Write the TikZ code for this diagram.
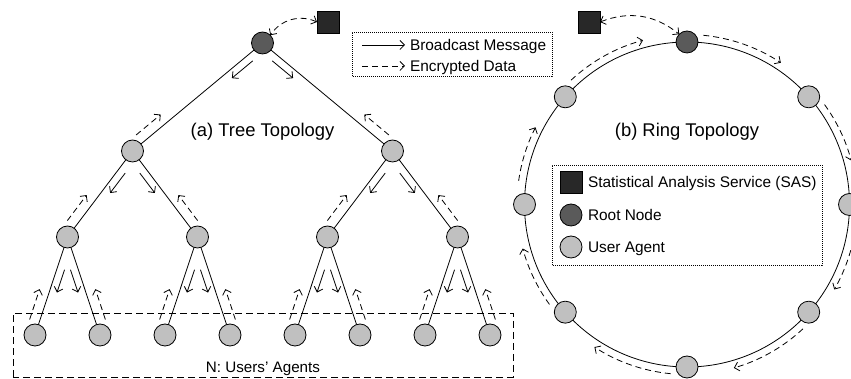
\documentclass[tikz,border=0pt]{standalone}
\usepackage{fontspec}
\setmainfont{Liberation Sans}
\usetikzlibrary{arrows.meta,calc}
\definecolor{uac}{HTML}{C0C0C0}
\definecolor{rootc}{HTML}{5A5A5A}
\definecolor{sasc}{HTML}{282828}
\newcommand\treeEdge[5]{%
  \draw[edgeln] (#1) -- (#2);
  \draw[barr] ($(#1)!#4pt!(#2)!7.5pt!#3:(#2)$) -- ($(#1)!#5pt!(#2)!7.5pt!#3:(#2)$);
  \draw[dsh] ($(#2)!13pt!(#1)!10pt!#3:(#1)$) -- ($(#2)!45pt!(#1)!10pt!#3:(#1)$);
}
\begin{document}
\begin{tikzpicture}[x=1pt,y=1pt,
  every node/.style={inner sep=0pt, outer sep=0pt},
  agent/.style={circle, draw, line width=0.8pt, fill=uac, minimum size=22pt},
  rootn/.style={agent, fill=rootc},
  sas/.style={rectangle, draw, line width=0.8pt, fill=sasc, minimum size=22pt},
  edgeln/.style={line width=0.8pt},
  barr/.style={-{Straight Barb[length=4.5pt,width=9pt]}, line width=0.8pt},
  dsh/.style={barr, dash pattern=on 6pt off 4pt},
  dbl/.style={{Straight Barb[length=4.5pt,width=9pt]}-{Straight Barb[length=4.5pt,width=9pt]}, line width=0.8pt, dash pattern=on 6pt off 4pt},
  dotbox/.style={line width=0.7pt, dash pattern=on 0.8pt off 1.2pt},
  lbl/.style={font=\fontsize{15.4}{18}\selectfont, anchor=base west},
  ttl/.style={font=\fontsize{18.4}{21}\selectfont, anchor=base}
]
\useasboundingbox (0,0) rectangle (851,379);
\clip (0,0) rectangle (851,379);

% ---------------- Tree topology ----------------
\draw[line width=0.8pt, dash pattern=on 7pt off 4pt] (13,2) rectangle (513,66);
\node[font=\fontsize{15.2}{18}\selectfont, anchor=base] (ntext) at (263,6.6) {N: Users' Agents};

\node[rootn] (r) at (262.5,336) {};
\node[agent] (a1) at (132.5,228) {};
\node[agent] (a2) at (392.5,228) {};
\node[agent] (b1) at (67.5,142) {};
\node[agent] (b2) at (197.5,142) {};
\node[agent] (b3) at (327.5,142) {};
\node[agent] (b4) at (457.5,142) {};
\foreach \i in {1,...,8} {
  \node[agent] (c\i) at ({35+65*(\i-1)},44) {};
}

\treeEdge{r}{a1}{90}{19}{46}
\treeEdge{r}{a2}{-90}{19}{46}
\treeEdge{a1}{b1}{90}{22}{47}
\treeEdge{a1}{b2}{-90}{22}{47}
\treeEdge{a2}{b3}{90}{22}{47}
\treeEdge{a2}{b4}{-90}{22}{47}
\treeEdge{b1}{c1}{90}{32}{56}
\treeEdge{b1}{c2}{-90}{32}{56}
\treeEdge{b2}{c3}{90}{32}{56}
\treeEdge{b2}{c4}{-90}{32}{56}
\treeEdge{b3}{c5}{90}{32}{56}
\treeEdge{b3}{c6}{-90}{32}{56}
\treeEdge{b4}{c7}{90}{32}{56}
\treeEdge{b4}{c8}{-90}{32}{56}

\node[sas] (s1) at (328,357) {};
\draw[dbl] (s1.west) to[bend right=40] (r.north east);

\node[ttl] (t1) at (262.5,242.6) {(a) Tree Topology};

% legend (tree)
\draw[dotbox] (352,303) rectangle (552,347);
\coordinate (l1a) at (362,334);
\coordinate (l1b) at (405,334);
\coordinate (l2a) at (362,313);
\coordinate (l2b) at (405,313);
\draw[barr] (l1a) -- (l1b);
\draw[dsh] (l2a) -- (l2b);
\node[lbl] (lt1) at (410,328.6) {Broadcast Message};
\node[lbl] (lt2) at (410,307.6) {Encrypted Data};

% ---------------- Ring topology ----------------
\coordinate (rc) at (687,174.5);
\draw[edgeln] (rc) circle[radius=162.5];
\node[rootn] (q0) at ($(rc)+(90:162.5)$) {};
\foreach \n/\a in {1/41.5, 2/0, 3/-41.5, 4/-90, 5/-138.5, 6/180, 7/138.5} {
  \node[agent] (q\n) at ($(rc)+(\a:162.5)$) {};
}
\foreach \s/\e in {133/105, 84.5/56.5, 36/15, -5.5/-30, -47/-74, -95.5/-123, -144/-165, 172/153} {
  \draw[dsh] ($(rc)+(\s:170)$) arc[start angle=\s, end angle=\e, radius=170];
}

\node[sas] (s2) at (589,357) {};
\draw[dbl] (s2.east) to[bend left=30] (q0.north west);

\node[ttl] (t2) at (687,242.6) {(b) Ring Topology};

% legend (ring)
\draw[dotbox] (552,114) rectangle (822,214);
\node[sas] (k1) at (571,197) {};
\node[rootn] (k2) at (571,164) {};
\node[agent] (k3) at (571,132) {};
\node[lbl] (kt1) at (588,191.6) {Statistical Analysis Service (SAS)};
\node[lbl] (kt2) at (588,158.6) {Root Node};
\node[lbl] (kt3) at (588,126.6) {User Agent};
\end{tikzpicture}
\end{document}
